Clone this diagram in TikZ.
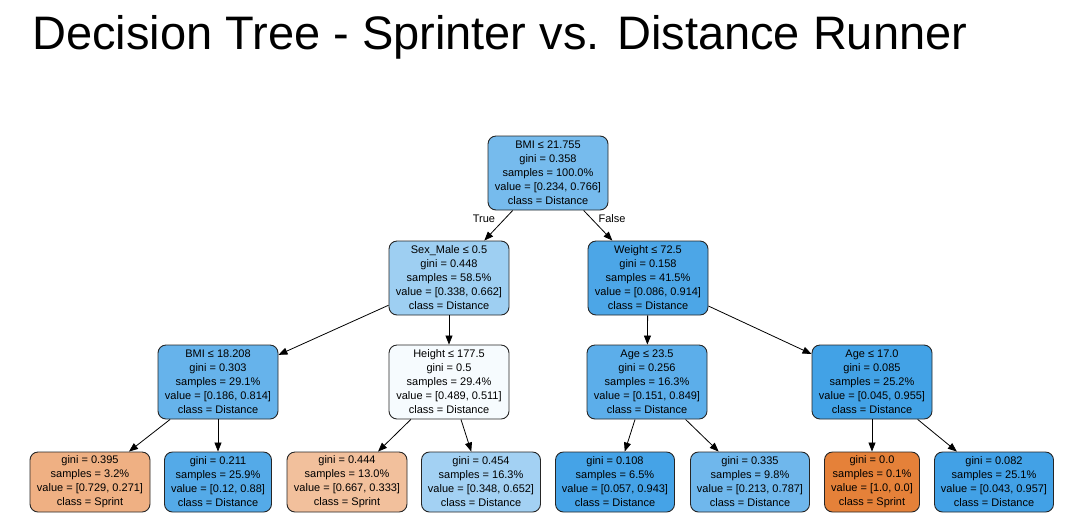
\documentclass[tikz,border=0pt]{standalone}
\usepackage{fontspec}
\setmainfont{Liberation Sans}
\usetikzlibrary{arrows.meta}
\definecolor{cRoot}{RGB}{118,187,237}
\definecolor{cSex}{RGB}{158,207,242}
\definecolor{cWeight}{RGB}{76,166,231}
\definecolor{cBmiB}{RGB}{102,179,235}
\definecolor{cHeight}{RGB}{246,251,254}
\definecolor{cAgeA}{RGB}{92,174,234}
\definecolor{cAgeB}{RGB}{66,162,230}
\definecolor{cLa}{RGB}{239,176,131}
\definecolor{cLb}{RGB}{84,170,232}
\definecolor{cLc}{RGB}{242,192,156}
\definecolor{cLd}{RGB}{163,209,243}
\definecolor{cLe}{RGB}{69,163,231}
\definecolor{cLf}{RGB}{111,183,236}
\definecolor{cLg}{RGB}{229,129,57}
\definecolor{cLh}{RGB}{66,161,230}
\begin{document}
\begin{tikzpicture}[x=1pt,y=-1pt,
  tnode/.style={draw=black!85, line width=0.9pt, rounded corners=8pt, align=center,
    font=\fontsize{11}{14}\selectfont, inner sep=0pt, minimum height=74pt, minimum width=120pt},
  leaf/.style={tnode, minimum height=60pt},
  conn/.style={-{Triangle[length=9pt,width=7pt]}, line width=0.8pt, black},
  lbl/.style={font=\fontsize{11}{14}\selectfont, inner sep=0pt}]
\useasboundingbox (0,0) rectangle (1083,531);
\node[anchor=base west, inner sep=0pt, font=\fontsize{47}{56}\selectfont] (title) at (32,49) {Decision Tree - Sprinter vs. Distance Runner};

\node[tnode, fill=cRoot] (root) at (548,173) {BMI ≤ 21.755\\gini = 0.358\\samples = 100.0\%\\value = [0.234, 0.766]\\class = Distance};
\node[tnode, fill=cSex] (sex) at (449,278) {Sex\_Male ≤ 0.5\\gini = 0.448\\samples = 58.5\%\\value = [0.338, 0.662]\\class = Distance};
\node[tnode, fill=cWeight] (weight) at (648,278) {Weight ≤ 72.5\\gini = 0.158\\samples = 41.5\%\\value = [0.086, 0.914]\\class = Distance};
\node[tnode, fill=cBmiB] (bmib) at (218,382) {BMI ≤ 18.208\\gini = 0.303\\samples = 29.1\%\\value = [0.186, 0.814]\\class = Distance};
\node[tnode, fill=cHeight] (height) at (449,382) {Height ≤ 177.5\\gini = 0.5\\samples = 29.4\%\\value = [0.489, 0.511]\\class = Distance};
\node[tnode, fill=cAgeA] (agea) at (647,382) {Age ≤ 23.5\\gini = 0.256\\samples = 16.3\%\\value = [0.151, 0.849]\\class = Distance};
\node[tnode, fill=cAgeB] (ageb) at (872,382) {Age ≤ 17.0\\gini = 0.085\\samples = 25.2\%\\value = [0.045, 0.955]\\class = Distance};

\node[leaf, fill=cLa] (la) at (90,482) {gini = 0.395\\samples = 3.2\%\\value = [0.729, 0.271]\\class = Sprint};
\node[leaf, fill=cLb, minimum width=107pt] (lb) at (218,482) {gini = 0.211\\samples = 25.9\%\\value = [0.12, 0.88]\\class = Distance};
\node[leaf, fill=cLc] (lc) at (347,482) {gini = 0.444\\samples = 13.0\%\\value = [0.667, 0.333]\\class = Sprint};
\node[leaf, fill=cLd, minimum width=119pt] (ld) at (481,482) {gini = 0.454\\samples = 16.3\%\\value = [0.348, 0.652]\\class = Distance};
\node[leaf, fill=cLe, minimum width=119pt] (le) at (615,482) {gini = 0.108\\samples = 6.5\%\\value = [0.057, 0.943]\\class = Distance};
\node[leaf, fill=cLf, minimum width=119pt] (lf) at (750,482) {gini = 0.335\\samples = 9.8\%\\value = [0.213, 0.787]\\class = Distance};
\node[leaf, fill=cLg, minimum width=95pt] (lg) at (872,482) {gini = 0.0\\samples = 0.1\%\\value = [1.0, 0.0]\\class = Sprint};
\node[leaf, fill=cLh, minimum width=119pt] (lh) at (994,482) {gini = 0.082\\samples = 25.1\%\\value = [0.043, 0.957]\\class = Distance};

\draw[conn] (root) -- (sex);
\draw[conn] (root) -- (weight);
\node[lbl] (ltrue) at (484,219) {True};
\node[lbl] (lfalse) at (612,219) {False};
\draw[conn] (sex) -- (bmib);
\draw[conn] (sex) -- (height);
\draw[conn] (weight) -- (agea);
\draw[conn] (weight) -- (ageb);
\draw[conn] (bmib) -- (la);
\draw[conn] (bmib) -- (lb);
\draw[conn] (height) -- (lc);
\draw[conn] (height) -- (ld);
\draw[conn] (agea) -- (le);
\draw[conn] (agea) -- (lf);
\draw[conn] (ageb) -- (lg);
\draw[conn] (ageb) -- (lh);
\end{tikzpicture}
\end{document}
